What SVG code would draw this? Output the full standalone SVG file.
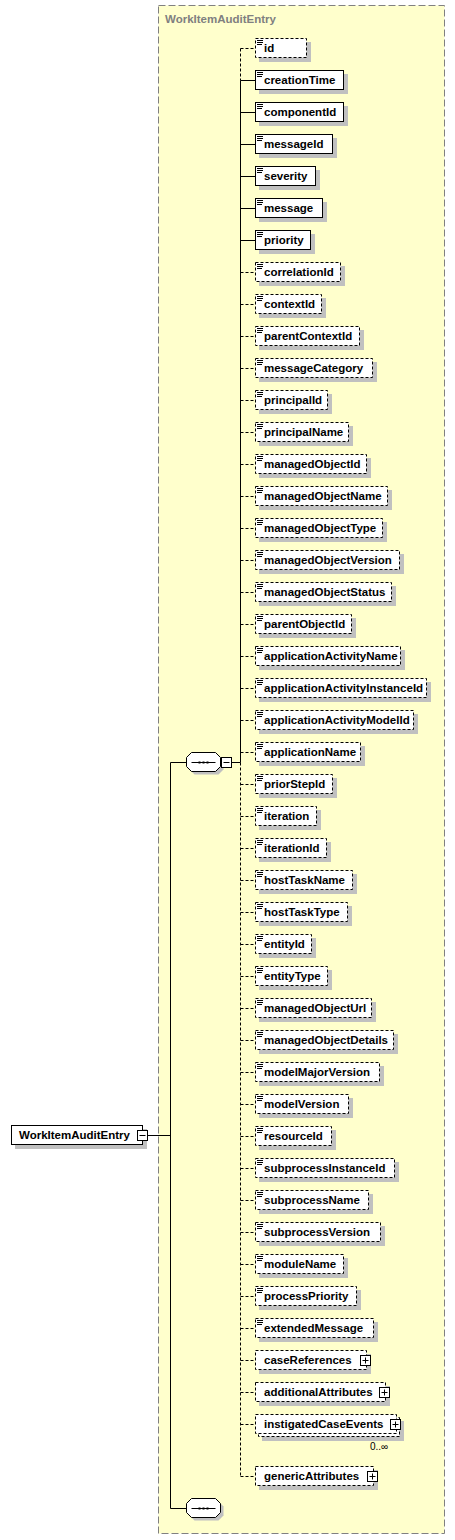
<svg xmlns="http://www.w3.org/2000/svg" xmlns:xlink="http://www.w3.org/1999/xlink" width="455" height="1540" viewBox="0 0 455 1540">
<style>
.sh{fill:#c0c0c0}
.b{fill:#fff;stroke:#000;stroke-width:1}
.o{fill:#fff;stroke:#000;stroke-width:1;stroke-dasharray:3,2}
.t{font-family:"Liberation Sans",Arial,sans-serif;font-weight:bold;font-size:11.5px;fill:#000}
.ln{fill:none;stroke:#000;stroke-width:1}
.dl{fill:none;stroke:#000;stroke-width:1;stroke-dasharray:3,2}
.ic{fill:none;stroke:#000;stroke-width:1}
</style>
<defs>
<path id="ic" class="ic" d="M257,2h6M257,4h6M257,6h5"/>
<g id="plus"><rect x="0" y="0" width="10" height="10" fill="#fff" stroke="#000"/><path d="M2,5H8M5,2V8" stroke="#000" fill="none"/></g>
<g id="minus"><rect x="0" y="0" width="10" height="10" fill="#fff" stroke="#000"/><path d="M2,5H8" stroke="#000" fill="none"/></g>
<path id="oct" d="M5,0H29L34,5V14L29,19H5L0,14V5Z"/>
<g id="seqmark"><path d="M5,10H29" stroke="#000" fill="none"/><rect x="12" y="9" width="2" height="2" fill="#000"/><rect x="16" y="9" width="2" height="2" fill="#000"/><rect x="20" y="9" width="2" height="2" fill="#000"/></g>
</defs>

<g id="container">
<rect x="158.5" y="5.5" width="286" height="1528" fill="#ffffcc" stroke="#808080" stroke-dasharray="7,3"/>
<text x="165" y="23" font-family="'Liberation Sans',Arial,sans-serif" font-weight="bold" font-size="11.5px" fill="#808080">WorkItemAuditEntry</text>
</g>

<g id="connectors">
<path class="ln" d="M147.5,1135.5H170.5M170.5,762.5V1508.5M170.5,762.5H186.5M170.5,1508.5H186.5M231.5,762.5H240.5M240.5,80.5V762.5M240.5,80.5H255.5M240.5,112.5H255.5M240.5,144.5H255.5M240.5,176.5H255.5M240.5,208.5H255.5M240.5,240.5H255.5"/>
<path class="dl" d="M240.5,48.5V80.5M240.5,762.5V1476.5M240.5,48.5H255.5M240.5,272.5H255.5M240.5,304.5H255.5M240.5,336.5H255.5M240.5,368.5H255.5M240.5,400.5H255.5M240.5,432.5H255.5M240.5,464.5H255.5M240.5,496.5H255.5M240.5,528.5H255.5M240.5,560.5H255.5M240.5,592.5H255.5M240.5,624.5H255.5M240.5,656.5H255.5M240.5,688.5H255.5M240.5,720.5H255.5M240.5,752.5H255.5M240.5,784.5H255.5M240.5,816.5H255.5M240.5,848.5H255.5M240.5,880.5H255.5M240.5,912.5H255.5M240.5,944.5H255.5M240.5,976.5H255.5M240.5,1008.5H255.5M240.5,1040.5H255.5M240.5,1072.5H255.5M240.5,1104.5H255.5M240.5,1136.5H255.5M240.5,1168.5H255.5M240.5,1200.5H255.5M240.5,1232.5H255.5M240.5,1264.5H255.5M240.5,1296.5H255.5M240.5,1328.5H255.5M240.5,1360.5H255.5M240.5,1392.5H255.5M240.5,1424.5H255.5M240.5,1476.5H255.5"/>
</g>

<g id="root">
<rect class="sh" x="15" y="1129" width="132" height="20"/>
<rect class="b" x="11.5" y="1125.5" width="131" height="19"/>
<text class="t" x="19" y="1139">WorkItemAuditEntry</text>
<use xlink:href="#minus" x="137.5" y="1130.5"/>
</g>

<g id="sequence">
<use xlink:href="#oct" x="189.5" y="755.5" fill="#c0c0c0"/>
<use xlink:href="#oct" x="186.5" y="752.5" fill="#fff" stroke="#000"/>
<use xlink:href="#seqmark" x="186.5" y="752.5"/>
<use xlink:href="#minus" x="221.5" y="757.5"/>
</g>

<g id="sequence-end">
<use xlink:href="#oct" x="189.5" y="1501.5" fill="#c0c0c0"/>
<use xlink:href="#oct" x="186.5" y="1498.5" fill="#fff" stroke="#000"/>
<use xlink:href="#seqmark" x="186.5" y="1498.5"/>
</g>

<g id="n-id"><rect class="sh" x="259" y="42" width="52" height="20"/><rect class="o" x="255.5" y="38.5" width="51" height="19"/><use xlink:href="#ic" y="38.5"/><text class="t" x="264" y="52">id</text></g>
<g id="n-creationTime"><rect class="sh" x="259" y="74" width="89" height="20"/><rect class="b" x="255.5" y="70.5" width="88" height="19"/><use xlink:href="#ic" y="70.5"/><text class="t" x="264" y="84">creationTime</text></g>
<g id="n-componentId"><rect class="sh" x="259" y="106" width="89" height="20"/><rect class="b" x="255.5" y="102.5" width="88" height="19"/><use xlink:href="#ic" y="102.5"/><text class="t" x="264" y="116">componentId</text></g>
<g id="n-messageId"><rect class="sh" x="259" y="138" width="78" height="20"/><rect class="b" x="255.5" y="134.5" width="77" height="19"/><use xlink:href="#ic" y="134.5"/><text class="t" x="264" y="148">messageId</text></g>
<g id="n-severity"><rect class="sh" x="259" y="170" width="61" height="20"/><rect class="b" x="255.5" y="166.5" width="60" height="19"/><use xlink:href="#ic" y="166.5"/><text class="t" x="264" y="180">severity</text></g>
<g id="n-message"><rect class="sh" x="259" y="202" width="68" height="20"/><rect class="b" x="255.5" y="198.5" width="67" height="19"/><use xlink:href="#ic" y="198.5"/><text class="t" x="264" y="212">message</text></g>
<g id="n-priority"><rect class="sh" x="259" y="234" width="56" height="20"/><rect class="b" x="255.5" y="230.5" width="55" height="19"/><use xlink:href="#ic" y="230.5"/><text class="t" x="264" y="244">priority</text></g>
<g id="n-correlationId"><rect class="sh" x="259" y="266" width="86" height="20"/><rect class="o" x="255.5" y="262.5" width="85" height="19"/><use xlink:href="#ic" y="262.5"/><text class="t" x="264" y="276">correlationId</text></g>
<g id="n-contextId"><rect class="sh" x="259" y="298" width="67" height="20"/><rect class="o" x="255.5" y="294.5" width="66" height="19"/><use xlink:href="#ic" y="294.5"/><text class="t" x="264" y="308">contextId</text></g>
<g id="n-parentContextId"><rect class="sh" x="259" y="330" width="105" height="20"/><rect class="o" x="255.5" y="326.5" width="104" height="19"/><use xlink:href="#ic" y="326.5"/><text class="t" x="264" y="340">parentContextId</text></g>
<g id="n-messageCategory"><rect class="sh" x="259" y="362" width="118" height="20"/><rect class="o" x="255.5" y="358.5" width="117" height="19"/><use xlink:href="#ic" y="358.5"/><text class="t" x="264" y="372">messageCategory</text></g>
<g id="n-principalId"><rect class="sh" x="259" y="394" width="73" height="20"/><rect class="o" x="255.5" y="390.5" width="72" height="19"/><use xlink:href="#ic" y="390.5"/><text class="t" x="264" y="404">principalId</text></g>
<g id="n-principalName"><rect class="sh" x="259" y="426" width="94" height="20"/><rect class="o" x="255.5" y="422.5" width="93" height="19"/><use xlink:href="#ic" y="422.5"/><text class="t" x="264" y="436">principalName</text></g>
<g id="n-managedObjectId"><rect class="sh" x="259" y="458" width="112" height="20"/><rect class="o" x="255.5" y="454.5" width="111" height="19"/><use xlink:href="#ic" y="454.5"/><text class="t" x="264" y="468">managedObjectId</text></g>
<g id="n-managedObjectName"><rect class="sh" x="259" y="490" width="133" height="20"/><rect class="o" x="255.5" y="486.5" width="132" height="19"/><use xlink:href="#ic" y="486.5"/><text class="t" x="264" y="500">managedObjectName</text></g>
<g id="n-managedObjectType"><rect class="sh" x="259" y="522" width="128" height="20"/><rect class="o" x="255.5" y="518.5" width="127" height="19"/><use xlink:href="#ic" y="518.5"/><text class="t" x="264" y="532">managedObjectType</text></g>
<g id="n-managedObjectVersion"><rect class="sh" x="259" y="554" width="145" height="20"/><rect class="o" x="255.5" y="550.5" width="144" height="19"/><use xlink:href="#ic" y="550.5"/><text class="t" x="264" y="564">managedObjectVersion</text></g>
<g id="n-managedObjectStatus"><rect class="sh" x="259" y="586" width="137" height="20"/><rect class="o" x="255.5" y="582.5" width="136" height="19"/><use xlink:href="#ic" y="582.5"/><text class="t" x="264" y="596">managedObjectStatus</text></g>
<g id="n-parentObjectId"><rect class="sh" x="259" y="618" width="97" height="20"/><rect class="o" x="255.5" y="614.5" width="96" height="19"/><use xlink:href="#ic" y="614.5"/><text class="t" x="264" y="628">parentObjectId</text></g>
<g id="n-applicationActivityName"><rect class="sh" x="259" y="650" width="146" height="20"/><rect class="o" x="255.5" y="646.5" width="145" height="19"/><use xlink:href="#ic" y="646.5"/><text class="t" x="264" y="660">applicationActivityName</text></g>
<g id="n-applicationActivityInstanceId"><rect class="sh" x="259" y="682" width="172" height="20"/><rect class="o" x="255.5" y="678.5" width="171" height="19"/><use xlink:href="#ic" y="678.5"/><text class="t" x="264" y="692">applicationActivityInstanceId</text></g>
<g id="n-applicationActivityModelId"><rect class="sh" x="259" y="714" width="159" height="20"/><rect class="o" x="255.5" y="710.5" width="158" height="19"/><use xlink:href="#ic" y="710.5"/><text class="t" x="264" y="724">applicationActivityModelId</text></g>
<g id="n-applicationName"><rect class="sh" x="259" y="746" width="106" height="20"/><rect class="o" x="255.5" y="742.5" width="105" height="19"/><use xlink:href="#ic" y="742.5"/><text class="t" x="264" y="756">applicationName</text></g>
<g id="n-priorStepId"><rect class="sh" x="259" y="778" width="78" height="20"/><rect class="o" x="255.5" y="774.5" width="77" height="19"/><use xlink:href="#ic" y="774.5"/><text class="t" x="264" y="788">priorStepId</text></g>
<g id="n-iteration"><rect class="sh" x="259" y="810" width="62" height="20"/><rect class="o" x="255.5" y="806.5" width="61" height="19"/><use xlink:href="#ic" y="806.5"/><text class="t" x="264" y="820">iteration</text></g>
<g id="n-iterationId"><rect class="sh" x="259" y="842" width="72" height="20"/><rect class="o" x="255.5" y="838.5" width="71" height="19"/><use xlink:href="#ic" y="838.5"/><text class="t" x="264" y="852">iterationId</text></g>
<g id="n-hostTaskName"><rect class="sh" x="259" y="874" width="98" height="20"/><rect class="o" x="255.5" y="870.5" width="97" height="19"/><use xlink:href="#ic" y="870.5"/><text class="t" x="264" y="884">hostTaskName</text></g>
<g id="n-hostTaskType"><rect class="sh" x="259" y="906" width="93" height="20"/><rect class="o" x="255.5" y="902.5" width="92" height="19"/><use xlink:href="#ic" y="902.5"/><text class="t" x="264" y="916">hostTaskType</text></g>
<g id="n-entityId"><rect class="sh" x="259" y="938" width="57" height="20"/><rect class="o" x="255.5" y="934.5" width="56" height="19"/><use xlink:href="#ic" y="934.5"/><text class="t" x="264" y="948">entityId</text></g>
<g id="n-entityType"><rect class="sh" x="259" y="970" width="73" height="20"/><rect class="o" x="255.5" y="966.5" width="72" height="19"/><use xlink:href="#ic" y="966.5"/><text class="t" x="264" y="980">entityType</text></g>
<g id="n-managedObjectUrl"><rect class="sh" x="259" y="1002" width="117" height="20"/><rect class="o" x="255.5" y="998.5" width="116" height="19"/><use xlink:href="#ic" y="998.5"/><text class="t" x="264" y="1012">managedObjectUrl</text></g>
<g id="n-managedObjectDetails"><rect class="sh" x="259" y="1034" width="139" height="20"/><rect class="o" x="255.5" y="1030.5" width="138" height="19"/><use xlink:href="#ic" y="1030.5"/><text class="t" x="264" y="1044">managedObjectDetails</text></g>
<g id="n-modelMajorVersion"><rect class="sh" x="259" y="1066" width="125" height="20"/><rect class="o" x="255.5" y="1062.5" width="124" height="19"/><use xlink:href="#ic" y="1062.5"/><text class="t" x="264" y="1076">modelMajorVersion</text></g>
<g id="n-modelVersion"><rect class="sh" x="259" y="1098" width="94" height="20"/><rect class="o" x="255.5" y="1094.5" width="93" height="19"/><use xlink:href="#ic" y="1094.5"/><text class="t" x="264" y="1108">modelVersion</text></g>
<g id="n-resourceId"><rect class="sh" x="259" y="1130" width="77" height="20"/><rect class="o" x="255.5" y="1126.5" width="76" height="19"/><use xlink:href="#ic" y="1126.5"/><text class="t" x="264" y="1140">resourceId</text></g>
<g id="n-subprocessInstanceId"><rect class="sh" x="259" y="1162" width="140" height="20"/><rect class="o" x="255.5" y="1158.5" width="139" height="19"/><use xlink:href="#ic" y="1158.5"/><text class="t" x="264" y="1172">subprocessInstanceId</text></g>
<g id="n-subprocessName"><rect class="sh" x="259" y="1194" width="114" height="20"/><rect class="o" x="255.5" y="1190.5" width="113" height="19"/><use xlink:href="#ic" y="1190.5"/><text class="t" x="264" y="1204">subprocessName</text></g>
<g id="n-subprocessVersion"><rect class="sh" x="259" y="1226" width="126" height="20"/><rect class="o" x="255.5" y="1222.5" width="125" height="19"/><use xlink:href="#ic" y="1222.5"/><text class="t" x="264" y="1236">subprocessVersion</text></g>
<g id="n-moduleName"><rect class="sh" x="259" y="1258" width="89" height="20"/><rect class="o" x="255.5" y="1254.5" width="88" height="19"/><use xlink:href="#ic" y="1254.5"/><text class="t" x="264" y="1268">moduleName</text></g>
<g id="n-processPriority"><rect class="sh" x="259" y="1290" width="102" height="20"/><rect class="o" x="255.5" y="1286.5" width="101" height="19"/><use xlink:href="#ic" y="1286.5"/><text class="t" x="264" y="1300">processPriority</text></g>
<g id="n-extendedMessage"><rect class="sh" x="259" y="1322" width="119" height="20"/><rect class="o" x="255.5" y="1318.5" width="118" height="19"/><use xlink:href="#ic" y="1318.5"/><text class="t" x="264" y="1332">extendedMessage</text></g>
<g id="n-caseReferences"><rect class="sh" x="259" y="1354" width="112" height="20"/><rect class="o" x="255.5" y="1350.5" width="111" height="19"/><text class="t" x="264" y="1364">caseReferences</text><use xlink:href="#plus" x="360.5" y="1355.5"/></g>
<g id="n-additionalAttributes"><rect class="sh" x="259" y="1386" width="131" height="20"/><rect class="o" x="255.5" y="1382.5" width="130" height="19"/><text class="t" x="264" y="1396">additionalAttributes</text><use xlink:href="#plus" x="379.5" y="1387.5"/></g>
<g id="n-instigatedCaseEvents"><rect class="sh" x="262" y="1421" width="142" height="20"/><rect class="o" x="258.5" y="1417.5" width="141" height="19"/><rect class="o" x="255.5" y="1414.5" width="141" height="19"/><text class="t" x="264" y="1428">instigatedCaseEvents</text><use xlink:href="#plus" x="390.5" y="1419.5"/><text x="370" y="1450" font-family="'Liberation Sans',Arial,sans-serif" font-size="10px" fill="#000">0..∞</text></g>
<g id="n-genericAttributes"><rect class="sh" x="259" y="1470" width="119" height="20"/><rect class="o" x="255.5" y="1466.5" width="118" height="19"/><text class="t" x="264" y="1480">genericAttributes</text><use xlink:href="#plus" x="367.5" y="1471.5"/></g>
</svg>
